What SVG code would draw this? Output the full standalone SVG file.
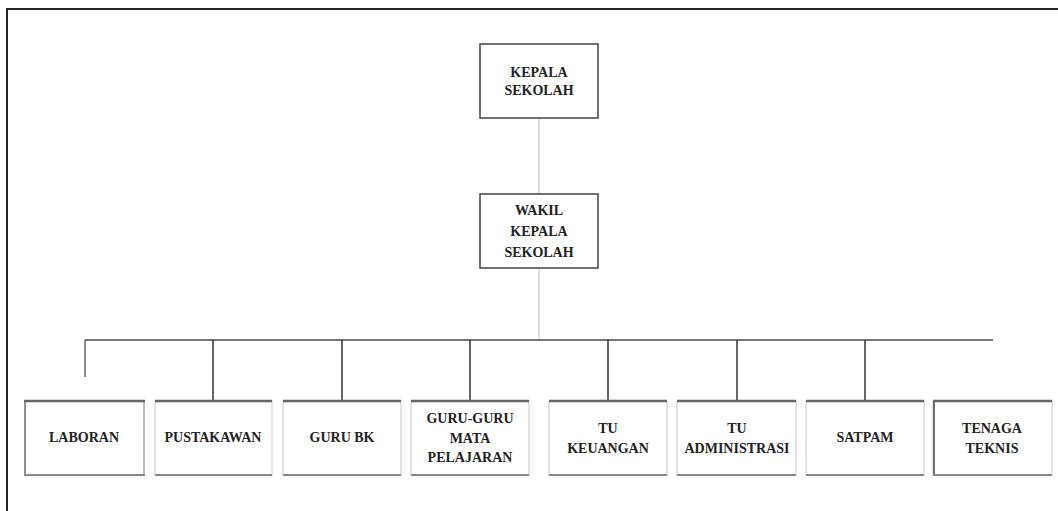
<svg xmlns="http://www.w3.org/2000/svg" width="1058" height="511" viewBox="0 0 1058 511">
<style>
.t{font-family:"Liberation Serif","Times New Roman",serif;font-weight:bold;font-size:14px;fill:#222;text-anchor:middle}
.top{fill:#fff;stroke:#444;stroke-width:1.5}
.side{stroke:#c8c8c8;stroke-width:1}
.tb{stroke:#666;stroke-width:2.5}
.bb{stroke:#888;stroke-width:2}
.c{stroke:#333;stroke-width:1.5;fill:none}
.cl{stroke:#c4c4c4;stroke-width:1.2;fill:none}
</style>
<rect x="0" y="0" width="1058" height="511" fill="#fff"/>
<path d="M7 511 V9 H1058" fill="none" stroke="#222" stroke-width="2"/>
<g id="connectors">
<line class="cl" x1="539" y1="119" x2="539" y2="194"/>
<line class="cl" x1="539" y1="268" x2="539" y2="340"/>
<line x1="85" y1="340" x2="993" y2="340" stroke="#777" stroke-width="2"/>
<line x1="85" y1="340" x2="85" y2="377" stroke="#666" stroke-width="1.5"/>
<line class="c" x1="213" y1="340" x2="213" y2="401"/>
<line class="c" x1="342" y1="340" x2="342" y2="401"/>
<line class="c" x1="470" y1="340" x2="470" y2="401"/>
<line class="c" x1="608" y1="340" x2="608" y2="401"/>
<line class="c" x1="737" y1="340" x2="737" y2="401"/>
<line class="c" x1="865" y1="340" x2="865" y2="401"/>
</g>
<g id="kepala">
<rect class="top" x="480" y="44" width="118" height="74"/>
<text class="t" x="539" y="77">KEPALA</text>
<text class="t" x="539" y="95">SEKOLAH</text>
</g>
<g id="wakil">
<rect class="top" x="480" y="194" width="118" height="74"/>
<text class="t" x="539" y="215">WAKIL</text>
<text class="t" x="539" y="236">KEPALA</text>
<text class="t" x="539" y="257">SEKOLAH</text>
</g>
<g id="laboran">
<rect x="25" y="401" width="119" height="74" fill="#fff" class="side"/>
<line x1="25" y1="401" x2="25" y2="475" stroke="#777" stroke-width="1.5"/>
<line x1="144" y1="401" x2="144" y2="475" stroke="#999" stroke-width="1"/>
<line class="tb" x1="24" y1="401" x2="145" y2="401"/>
<line class="bb" x1="24" y1="475" x2="145" y2="475"/>
<text class="t" x="84" y="442">LABORAN</text>
</g>
<g id="pustakawan">
<rect x="155" y="401" width="117" height="74" fill="#fff" class="side"/>
<line class="tb" x1="155" y1="401" x2="272" y2="401"/>
<line class="bb" x1="155" y1="475" x2="272" y2="475"/>
<text class="t" x="213" y="442">PUSTAKAWAN</text>
</g>
<g id="gurubk">
<rect x="283" y="401" width="118" height="74" fill="#fff" class="side"/>
<line class="tb" x1="283" y1="401" x2="401" y2="401"/>
<line class="bb" x1="283" y1="475" x2="401" y2="475"/>
<text class="t" x="342" y="442">GURU BK</text>
</g>
<g id="guruguru">
<rect x="411" y="401" width="118" height="74" fill="#fff" class="side"/>
<line class="tb" x1="411" y1="401" x2="529" y2="401"/>
<line class="bb" x1="411" y1="475" x2="529" y2="475"/>
<text class="t" x="470" y="423">GURU-GURU</text>
<text class="t" x="470" y="443">MATA</text>
<text class="t" x="470" y="462">PELAJARAN</text>
</g>
<g id="tukeuangan">
<rect x="549" y="401" width="118" height="74" fill="#fff" class="side"/>
<line class="tb" x1="549" y1="401" x2="667" y2="401"/>
<line class="bb" x1="549" y1="475" x2="667" y2="475"/>
<text class="t" x="608" y="433">TU</text>
<text class="t" x="608" y="453">KEUANGAN</text>
</g>
<g id="tuadmin">
<rect x="677" y="401" width="119" height="74" fill="#fff" class="side"/>
<line class="tb" x1="677" y1="401" x2="796" y2="401"/>
<line class="bb" x1="677" y1="475" x2="796" y2="475"/>
<text class="t" x="737" y="433">TU</text>
<text class="t" x="737" y="453">ADMINISTRASI</text>
</g>
<g id="satpam">
<rect x="806" y="401" width="118" height="74" fill="#fff" class="side"/>
<line class="tb" x1="806" y1="401" x2="924" y2="401"/>
<line class="bb" x1="806" y1="475" x2="924" y2="475"/>
<text class="t" x="865" y="442">SATPAM</text>
</g>
<g id="tenagateknis">
<rect x="933" y="401" width="119" height="74" fill="#fff" class="side"/>
<line x1="934" y1="401" x2="934" y2="475" stroke="#444" stroke-width="1.5"/>
<line class="tb" x1="933" y1="401" x2="1052" y2="401"/>
<line class="bb" x1="933" y1="475" x2="1052" y2="475"/>
<text class="t" x="992" y="433">TENAGA</text>
<text class="t" x="992" y="453">TEKNIS</text>
</g>
</svg>
